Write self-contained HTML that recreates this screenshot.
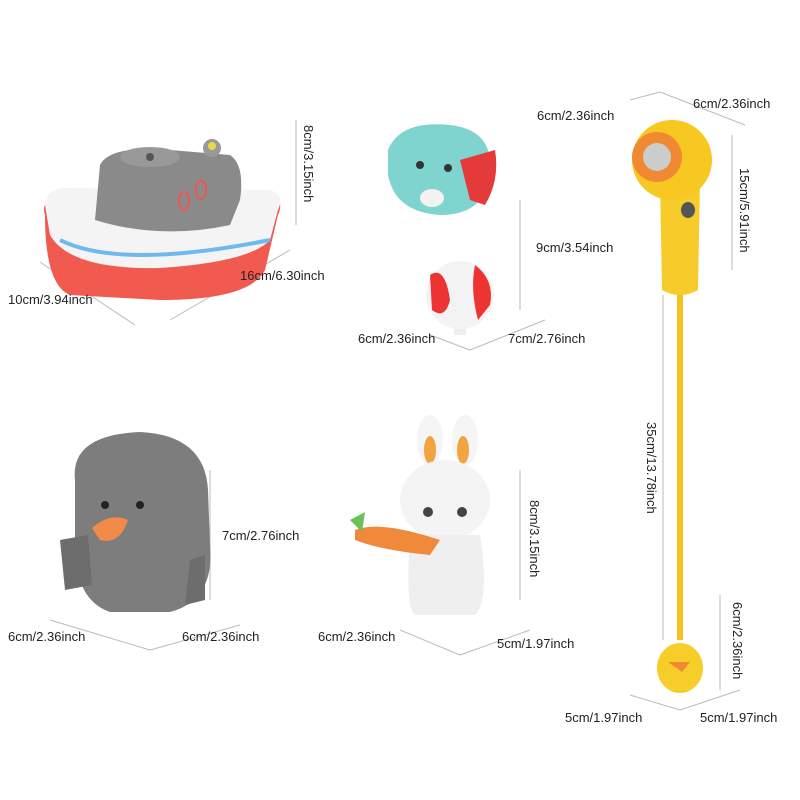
<!DOCTYPE html>
<html><head><meta charset="utf-8"><style>
html,body{margin:0;padding:0;background:#fff;width:800px;height:800px;overflow:hidden}
svg text{font-family:"Liberation Sans",sans-serif;font-size:13px;fill:#222}
</style></head><body>
<svg width="800" height="800" viewBox="0 0 800 800" xmlns="http://www.w3.org/2000/svg">
<g stroke="#bbb" stroke-width="1" fill="none">
<line x1="170" y1="320" x2="290" y2="250"/><line x1="40" y1="262" x2="135" y2="325"/>
<line x1="296" y1="120" x2="296" y2="225"/>
<line x1="430" y1="335" x2="470" y2="350"/><line x1="470" y1="350" x2="545" y2="320"/>
<line x1="520" y1="200" x2="520" y2="310"/>
<line x1="630" y1="100" x2="660" y2="92"/><line x1="660" y1="92" x2="745" y2="125"/>
<line x1="732" y1="135" x2="732" y2="270"/><line x1="663" y1="295" x2="663" y2="640"/>
<line x1="720" y1="595" x2="720" y2="690"/><line x1="630" y1="695" x2="680" y2="710"/><line x1="680" y1="710" x2="740" y2="690"/>
<line x1="50" y1="620" x2="150" y2="650"/><line x1="150" y1="650" x2="240" y2="625"/>
<line x1="210" y1="470" x2="210" y2="600"/>
<line x1="400" y1="630" x2="460" y2="655"/><line x1="460" y1="655" x2="530" y2="630"/>
<line x1="520" y1="470" x2="520" y2="600"/>
</g>
<!-- boat -->
<path d="M45 215 Q40 200 60 195 L270 195 Q285 200 278 215 L265 270 Q250 300 160 300 L70 295 Q45 285 45 215Z" fill="#f05a4f"/>
<path d="M45 205 Q45 190 65 188 L270 190 Q285 195 278 210 L270 240 Q250 262 160 268 Q70 270 50 235Z" fill="#f4f4f4"/>
<path d="M60 240 Q120 270 270 240" stroke="#6fb8f0" stroke-width="4" fill="none"/>
<path d="M95 220 L100 165 Q110 145 170 150 L230 155 Q245 165 240 200 L230 225 Q160 240 95 220Z" fill="#8a8a8a"/>
<ellipse cx="150" cy="157" rx="30" ry="10" fill="#999"/><circle cx="150" cy="157" r="4" fill="#555"/>
<circle cx="212" cy="148" r="9" fill="#999"/><circle cx="212" cy="146" r="4" fill="#e8d84a"/>
<ellipse cx="184" cy="201" rx="5" ry="9" fill="none" stroke="#e55" stroke-width="2"/><ellipse cx="201" cy="190" rx="5" ry="9" fill="none" stroke="#e55" stroke-width="2"/>
<!-- elephant -->
<rect x="454" y="300" width="12" height="35" fill="#eee"/>
<circle cx="460" cy="295" r="34" fill="#f3f3f3"/>
<path d="M430 275 Q445 265 450 300 Q445 320 432 310Z" fill="#e33"/><path d="M475 265 Q495 280 490 305 L478 320 Q470 290 475 265Z" fill="#e33"/>
<path d="M388 150 Q400 120 450 125 Q495 130 490 175 Q485 215 440 215 Q395 212 388 175Z" fill="#7fd4d0"/>
<path d="M460 160 L495 150 Q500 180 485 205 L470 200Z" fill="#e43a3a"/>
<circle cx="420" cy="165" r="4" fill="#333"/><circle cx="448" cy="168" r="4" fill="#333"/>
<ellipse cx="432" cy="198" rx="12" ry="9" fill="#f2f2f2"/>
<!-- shower -->
<rect x="677" y="290" width="6" height="350" fill="#f5c320"/>
<path d="M660 180 L700 180 L698 290 Q680 300 662 290Z" fill="#f7cc2a"/>
<ellipse cx="688" cy="210" rx="7" ry="8" fill="#555"/>
<circle cx="672" cy="160" r="40" fill="#f7c722"/>
<circle cx="657" cy="157" r="25" fill="#f08a32"/><circle cx="657" cy="157" r="14" fill="#ccc"/>
<ellipse cx="680" cy="668" rx="23" ry="25" fill="#f7cd2a"/><path d="M668 662 L690 662 L682 672Z" fill="#f08a32"/>
<!-- gray duck -->
<path d="M75 480 Q70 435 140 432 Q205 435 208 490 L210 545 Q215 600 170 612 L110 612 Q75 600 75 545Z" fill="#7d7d7d"/>
<path d="M60 540 L88 535 L92 585 L65 590Z" fill="#6d6d6d"/><path d="M190 560 L205 555 L205 600 L185 605Z" fill="#6d6d6d"/>
<circle cx="105" cy="505" r="4" fill="#222"/><circle cx="140" cy="505" r="4" fill="#222"/>
<path d="M92 528 Q110 512 128 520 Q120 545 100 540Z" fill="#f28a4a"/>
<!-- rabbit -->
<ellipse cx="430" cy="440" rx="13" ry="25" fill="#f5f5f5"/><ellipse cx="465" cy="440" rx="13" ry="25" fill="#f5f5f5"/>
<ellipse cx="430" cy="450" rx="6" ry="14" fill="#f2a443"/><ellipse cx="463" cy="450" rx="6" ry="14" fill="#f2a443"/>
<ellipse cx="445" cy="500" rx="45" ry="40" fill="#f4f4f4"/>
<path d="M410 535 Q405 610 415 615 L475 615 Q490 600 480 535Z" fill="#efefef"/>
<circle cx="428" cy="512" r="5" fill="#444"/><circle cx="462" cy="512" r="5" fill="#444"/>
<path d="M355 530 Q380 520 440 540 L430 555 Q380 550 355 540Z" fill="#f08a3a"/>
<path d="M350 520 L365 512 L362 532Z" fill="#6cc05a"/>
<!-- labels -->
<text x="8" y="304">10cm/3.94inch</text>
<text x="240" y="280">16cm/6.30inch</text>
<text transform="translate(304,125) rotate(90)">8cm/3.15inch</text>
<text x="536" y="252">9cm/3.54inch</text>
<text x="358" y="343">6cm/2.36inch</text>
<text x="508" y="343">7cm/2.76inch</text>
<text x="537" y="120">6cm/2.36inch</text>
<text x="693" y="108">6cm/2.36inch</text>
<text transform="translate(740,168) rotate(90)">15cm/5.91inch</text>
<text transform="translate(647,422) rotate(90)">35cm/13.78inch</text>
<text transform="translate(733,602) rotate(90)">6cm/2.36inch</text>
<text x="565" y="722">5cm/1.97inch</text>
<text x="700" y="722">5cm/1.97inch</text>
<text x="222" y="540">7cm/2.76inch</text>
<text x="8" y="641">6cm/2.36inch</text>
<text x="182" y="641">6cm/2.36inch</text>
<text transform="translate(530,500) rotate(90)">8cm/3.15inch</text>
<text x="318" y="641">6cm/2.36inch</text>
<text x="497" y="648">5cm/1.97inch</text>
</g>
</svg>
</body></html>
